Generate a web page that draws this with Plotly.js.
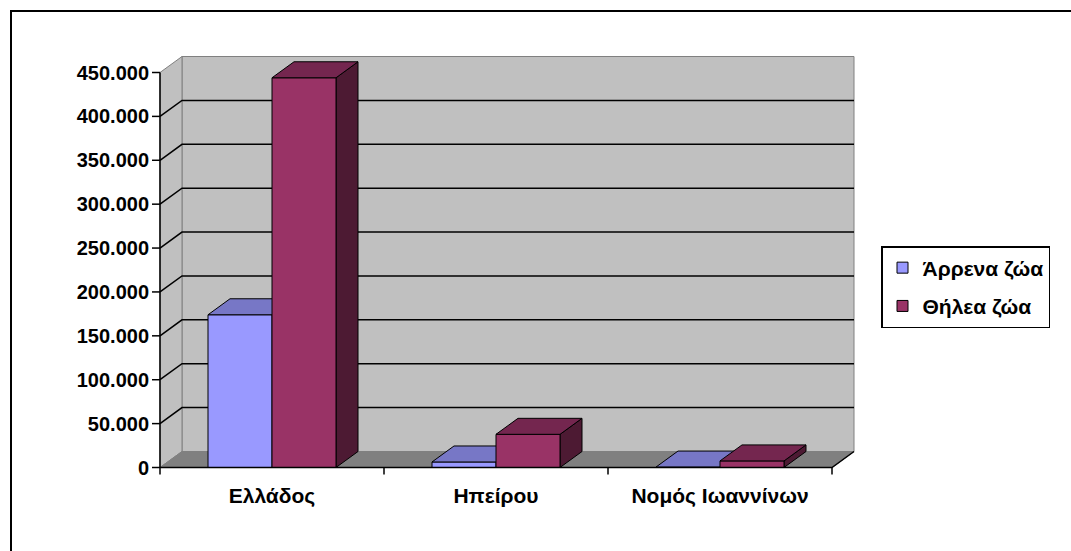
<!DOCTYPE html>
<html><head><meta charset="utf-8">
<script src="https://cdn.plot.ly/plotly-3.0.1.min.js"></script>
<style>
html,body{margin:0;padding:0;overflow:hidden;background:#fff}
#chart{position:absolute;left:0;top:0;width:1071px;height:551px}
#frame{position:absolute;left:10px;top:10px;width:1200px;height:700px;border:2px solid #000;pointer-events:none}
</style></head><body>
<div id="chart"></div><div id="frame"></div>
<script>
// ---- data ----
const categories = ['Ελλάδος', 'Ηπείρου', 'Νομός Ιωαννίνων'];
const seriesNames = ['Άρρενα ζώα', 'Θήλεα ζώα'];
const maleValues = [174000, 6300, 500];
const femaleValues = [444000, 37800, 7500];
const yTickVals = [0, 50000, 100000, 150000, 200000, 250000, 300000, 350000, 400000, 450000];

// ---- styles ----
const frontColors = ['#9999FF', '#993366'];
const topColors = ['#7777C6', '#74264F'];
const sideColors = ['#5C5C99', '#4D1A33'];
const wallColor = '#C0C0C0', floorColor = '#808080', edgeColor = '#808080';
const FAMILY = 'Arial, "Liberation Sans", sans-serif';
const FONT = {family: FAMILY, size: 20, color: '#000', weight: 700};
const FONT_L = {family: FAMILY, size: 21, color: '#000', weight: 700};

// ---- geometry (pixels) ----
const plotL = 152, plotR = 856, plotT = 54, plotB = 476;
const xFront0 = 160, catPx = 224;
const yFront0 = 467.5, yTopPx = 72.5;
const yMax = yTickVals[yTickVals.length - 1];
const depthPx = [22, 16];
const barPx = 64;
const pxX = catPx;
const pxY = (yFront0 - yTopPx) / yMax;
const xRange = [(plotL - xFront0) / pxX, (plotR - xFront0) / pxX];
const yRange = [-(plotB - yFront0) / pxY, (yFront0 - plotT) / pxY];
const dx = depthPx[0] / pxX, dy = depthPx[1] / pxY;
const bw = barPx / pxX;
const nCat = categories.length;

const traces = [];
function poly(xs, ys, fill, lineColor, lw) {
  traces.push({type: 'scatter', mode: 'lines', x: xs.concat([xs[0]]), y: ys.concat([ys[0]]),
    fill: 'toself', fillcolor: fill, line: {color: lineColor, width: lw},
    hoverinfo: 'skip', showlegend: false});
}
function path(xs, ys, color, lw) {
  traces.push({type: 'scatter', mode: 'lines', x: xs, y: ys, connectgaps: false,
    line: {color: color, width: lw}, hoverinfo: 'skip', showlegend: false});
}

// walls and floor
poly([dx, nCat + dx, nCat + dx, dx], [dy, dy, yMax + dy, yMax + dy], wallColor, edgeColor, 1);
poly([0, dx, dx, 0], [0, dy, yMax + dy, yMax], wallColor, edgeColor, 1);
poly([0, nCat, nCat + dx, dx], [0, 0, dy, dy], floorColor, edgeColor, 1);

// gridlines (left wall diagonal + back wall)
(function () {
  const gx = [], gy = [];
  yTickVals.forEach(v => {
    if (v === 0 || v === yMax) return;
    gx.push(0, dx, nCat + dx, null);
    gy.push(v, v + dy, v + dy, null);
  });
  path(gx, gy, '#000', 1.5);
})();

// bars
const seriesValues = [maleValues, femaleValues];
for (let c = 0; c < nCat; c++) {
  for (let s = 0; s < seriesValues.length; s++) {
    const v = seriesValues[s][c];
    const x0 = c + 0.5 + (s - 1) * bw, x1 = x0 + bw;
    poly([x1, x1 + dx, x1 + dx, x1], [0, dy, v + dy, v], sideColors[s], '#000', 1);
    poly([x0, x1, x1, x0], [0, 0, v, v], frontColors[s], '#000', 1);
    poly([x0, x1, x1 + dx, x0 + dx], [v, v, v + dy, v + dy], topColors[s], '#000', 1);
  }
}

// front axis lines
path([0, nCat, nCat + dx], [0, 0, dy], '#000', 1.5);
path([0, 0], [0, yMax], '#000', 1.5);

// tick marks
(function () {
  const tx = [], ty = [];
  yTickVals.forEach(v => { tx.push(-8 / pxX, 0, null); ty.push(v, v, null); });
  for (let k = 0; k <= nCat; k++) { tx.push(k, k, null); ty.push(0, -7 / pxY, null); }
  path(tx, ty, '#000', 1.5);
})();

// legend entries
seriesNames.forEach((n, s) => {
  traces.push({type: 'scatter', mode: 'markers', x: [null], y: [null], name: n,
    legendgroup: 'g' + s,
    marker: {symbol: 'square', size: 11, color: frontColors[s], line: {color: '#000', width: 1}},
    hoverinfo: 'skip'});
});

const layout = {
  width: 1071, height: 551,
  margin: {l: plotL, r: 1071 - plotR, t: plotT, b: 551 - plotB, pad: 0},
  paper_bgcolor: '#fff', plot_bgcolor: '#fff',
  separators: ',.',
  showlegend: true,
  hovermode: false,
  font: FONT,
  xaxis: {range: xRange, tickvals: categories.map((_, i) => i + 0.5), ticktext: categories,
    ticks: '', showgrid: false, zeroline: false, showline: false, tickfont: FONT_L,
    ticklabelstandoff: 5, fixedrange: true},
  yaxis: {range: yRange, tickvals: yTickVals, tickformat: ',d', ticks: '', showgrid: false,
    zeroline: false, showline: false, tickfont: FONT, ticklabelstandoff: 2, fixedrange: true},
  legend: {x: (881 - plotL) / (plotR - plotL), y: (plotB - 246) / (plotB - plotT),
    xanchor: 'left', yanchor: 'top', bordercolor: '#000', borderwidth: 1.5, bgcolor: '#fff',
    font: FONT_L, tracegroupgap: 8, traceorder: 'grouped'}
};
Plotly.newPlot('chart', traces, layout, {staticPlot: true, displayModeBar: false});
</script></body></html>
